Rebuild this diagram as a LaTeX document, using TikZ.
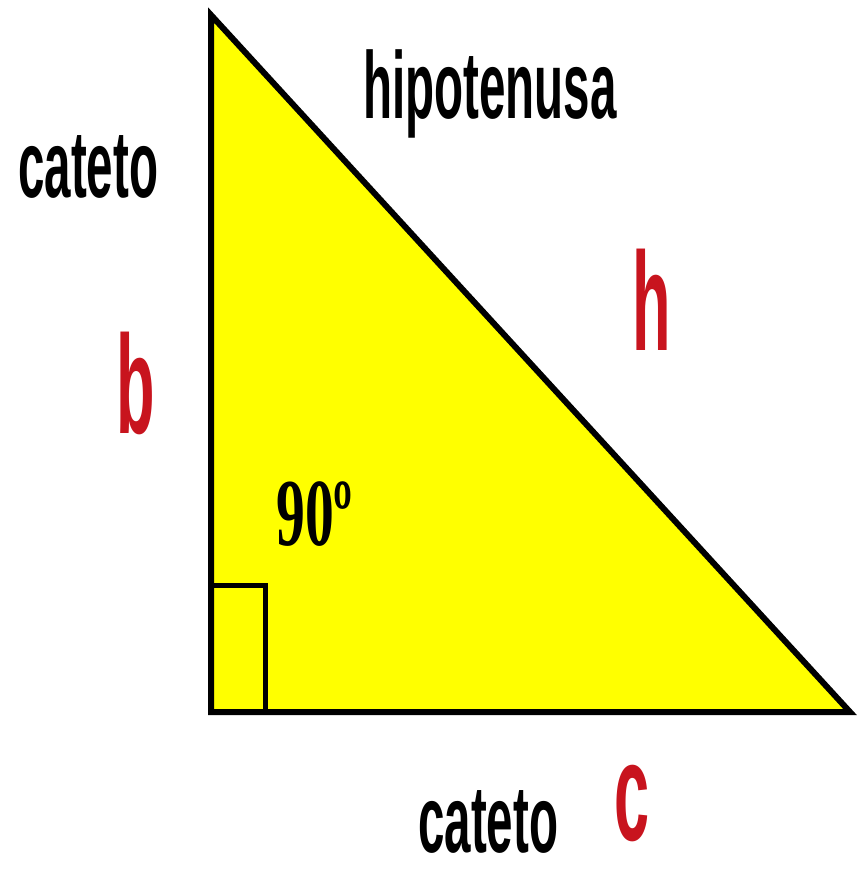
\documentclass[tikz,border=0pt]{standalone}
\usepackage{fontspec}
\usepackage{tikz}
\usetikzlibrary{positioning,calc}
\usepackage{xcolor}

\newfontfamily\condsans[FakeStretch=0.5]{Liberation Sans Bold}
\newfontfamily\condserif[FakeStretch=0.6]{Liberation Serif Bold}
\newfontfamily\redsans[FakeStretch=0.45]{Liberation Sans Bold}
\definecolor{tri}{RGB}{255,255,0}
\definecolor{lbl}{RGB}{200,20,30}

\begin{document}
\begin{tikzpicture}[
  x=1pt, y=-1pt,
  word/.style={inner sep=0pt, anchor=base west, font=\condsans\fontsize{95}{100}\selectfont},
  angle/.style={inner sep=0pt, anchor=base west, font=\condserif\fontsize{96}{100}\selectfont},
  side/.style={inner sep=0pt, anchor=base west, text=lbl, font=\redsans\fontsize{140}{150}\selectfont},
  edge/.style={line width=6pt, line join=miter},
  corner/.style={line width=5pt}
]

\useasboundingbox (0,0) rectangle (866,873);

\coordinate (A) at (211,15);
\coordinate (B) at (211,712);
\coordinate (C) at (850,712);

% triangle
\filldraw[edge, fill=tri] (A) -- (B) -- (C) -- cycle;

% right angle mark
\coordinate (Q1) at (211,585);
\coordinate (Q2) at (265,585);
\coordinate (Q3) at (265,712);
\draw[corner] (Q1) -- (Q2) -- (Q3);

\node[word] (hyp) at (363,118) {hipotenusa};
\node[word] (catb) at (18,197) {cateto};
\node[word] (catc) at (418,852) {cateto};

\node[angle] (ang) at (276,545) {90º};

\node[side] (b) at (116,433) {b};
\node[side] (h) at (632,350) {h};
\node[side] (c) at (614,840) {c};

\end{tikzpicture}
\end{document}
